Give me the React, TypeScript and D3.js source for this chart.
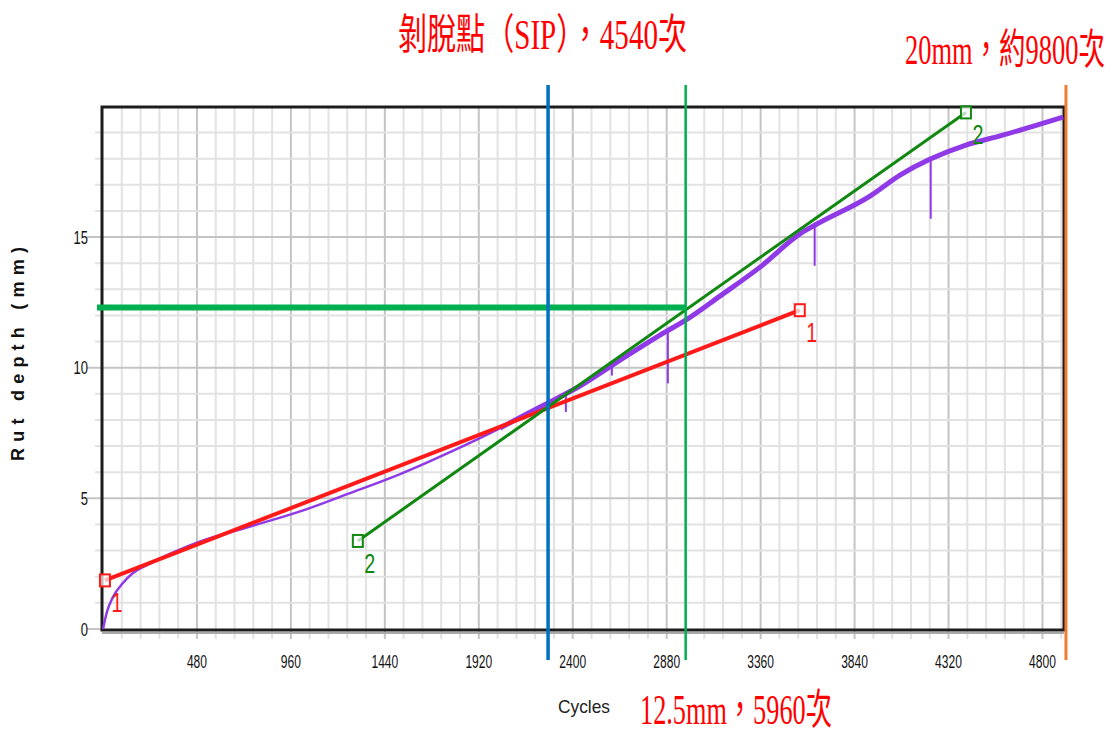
import { useLayoutEffect, useRef, useState } from "react";
import * as d3 from "d3";

const WIDTH = 1114;
const HEIGHT = 736;

// measured rut depth curve (cycles, mm)
const rutCycles = [0, 20, 51, 102, 153, 240, 480, 751, 1007, 1262, 1518, 1773, 2029, 2182, 2274, 2437, 2642, 2846, 2979, 3152, 3357, 3561, 3638, 3919, 4072, 4409, 4583, 4905];
const rutDepth = [0, 0.65, 1.22, 1.76, 2.14, 2.5, 3.3, 3.92, 4.5, 5.2, 5.93, 6.77, 7.69, 8.3, 8.65, 9.3, 10.29, 11.25, 11.83, 12.74, 13.85, 15.12, 15.46, 16.57, 17.37, 18.52, 18.87, 19.59];

// downward spikes in the measured curve
const spikeCycles = [2365, 2600, 2886, 3636, 4229];
const spikeLow = [8.3, 9.7, 9.4, 13.9, 15.7];

// fitted lines 1 and 2 (end points)
const fit1Cycles = [10, 3560];
const fit1Depth = [1.86, 12.2];
const fit2Cycles = [1302, 4409];
const fit2Depth = [3.37, 19.77];

// reference lines
const sipCycles = 2274;
const depth125Cycles = 2977;
const depth20Cycles = 4920;
const depthLevel = 12.3;

const xTicks = [480, 960, 1440, 1920, 2400, 2880, 3360, 3840, 4320, 4800];
const yTicks = [0, 5, 10, 15];

const SERIF = "'Liberation Serif', 'Noto Sans CJK TC', serif";
const SANS = "'Liberation Sans', Arial, sans-serif";

// text squeezed horizontally to a given width (like the narrow fonts in the original)
function FitText({ x, y, width, size, color, font, children }:
    { x: number; y: number; width: number; size: number; color: string; font: string; children: string }) {
    const ref = useRef<SVGTextElement>(null);
    const [k, setK] = useState(0.6);
    useLayoutEffect(() => {
        if (ref.current) {
            const len = ref.current.getComputedTextLength();
            if (len > 0) setK(width / len);
        }
    }, [width, children]);
    return (
        <text ref={ref} transform={`translate(${x},${y}) scale(${k},1)`} fill={color} fontFamily={font} fontSize={size}>
            {children}
        </text>
    );
}

function Marker({ cx, cy, color, label }: { cx: number; cy: number; color: string; label: string }) {
    return (
        <g>
            <rect x={cx - 5} y={cy - 6} width={10} height={12} fill="#fff" fillOpacity={0.7} stroke={color} strokeWidth={2} />
            <text x={cx + 12} y={cy + 32} textAnchor="middle" fill={color} fontFamily={SANS} fontSize={28}
                textLength={11} lengthAdjust="spacingAndGlyphs">{label}</text>
        </g>
    );
}

export default function App() {
    const x = d3.scaleLinear().domain([0, 4910]).range([103, 1064]);
    const y = d3.scaleLinear().domain([0, 20]).range([629, 106.4]);
    const rutAt = d3.scaleLinear().domain(rutCycles).range(rutDepth);

    const rutLine = d3.line<number>()
        .x((i) => x(rutCycles[i]))
        .y((i) => y(rutDepth[i]))
        .curve(d3.curveMonotoneX);
    const idx = rutCycles.map((_, i) => i);
    const lateIdx = idx.filter((i) => rutCycles[i] >= 2029);

    const xMinor = d3.range(96, 4910, 96);
    const yMinor = d3.range(1, 20, 1);

    const top = 85;
    const bottom = 660;

    return (
        <svg width={WIDTH} height={HEIGHT} style={{ position: "absolute", left: 0, top: 0, background: "#fff" }}>
            {/* grid */}
            {xMinor.map((v) => (
                <line key={"gx" + v} x1={x(v)} x2={x(v)} y1={y(20)} y2={y(0) + 10}
                    stroke={v % 480 === 0 ? "#c4c4c4" : "#e2e2e2"} strokeWidth={2} />
            ))}
            {yMinor.map((v) => (
                <line key={"gy" + v} x1={x(0) - (v % 5 === 0 ? 16 : 8)} x2={x(4910)} y1={y(v)} y2={y(v)}
                    stroke={v % 5 === 0 ? "#c4c4c4" : "#e2e2e2"} strokeWidth={2} />
            ))}
            <line x1={x(0) - 16} x2={x(0)} y1={y(0)} y2={y(0)} stroke="#c4c4c4" strokeWidth={2} />

            {/* frame */}
            <line x1={102} x2={1064} y1={y(0) + 4} y2={y(0) + 4} stroke="#a8a8a8" strokeWidth={2} />
            <rect x={102} y={107} width={962} height={523} fill="none" stroke="#1c1c1c" strokeWidth={3} />

            {/* tick labels */}
            {yTicks.map((v) => (
                <text key={"ty" + v} x={88} y={y(v) + 6.5} textAnchor="end" fill="#111" fontFamily={SANS}
                    fontSize={18} textLength={String(v).length * 7.2} lengthAdjust="spacingAndGlyphs">{v}</text>
            ))}
            {xTicks.map((v) => (
                <text key={"tx" + v} x={x(v)} y={668} textAnchor="middle" fill="#111" fontFamily={SANS}
                    fontSize={18} textLength={String(v).length * 6.7} lengthAdjust="spacingAndGlyphs">{v}</text>
            ))}

            {/* axis titles */}
            <text x={584} y={713} textAnchor="middle" fill="#222" fontFamily={SANS} fontSize={19}
                textLength={52} lengthAdjust="spacingAndGlyphs">Cycles</text>
            <text transform="translate(24,354) rotate(-90)" textAnchor="middle" fill="#111" fontFamily={SANS}
                fontWeight="bold" fontSize={18} textLength={214} lengthAdjust="spacing">Rut depth (mm)</text>

            {/* measured curve */}
            <path d={rutLine(idx) ?? ""} fill="none" stroke="#8f3ae6" strokeWidth={2.5} />
            <path d={rutLine(lateIdx) ?? ""} fill="none" stroke="#8f3ae6" strokeWidth={5} strokeLinejoin="round" />
            {spikeCycles.map((c, i) => (
                <line key={"sp" + i} x1={x(c)} x2={x(c)} y1={y(rutAt(c))} y2={y(spikeLow[i])}
                    stroke="#8f3ae6" strokeWidth={2} />
            ))}

            {/* fitted lines */}
            <line x1={x(fit1Cycles[0])} y1={y(fit1Depth[0])} x2={x(fit1Cycles[1])} y2={y(fit1Depth[1])}
                stroke="#ff1a1a" strokeWidth={4} />
            <line x1={x(fit2Cycles[0])} y1={y(fit2Depth[0])} x2={x(fit2Cycles[1])} y2={y(fit2Depth[1])}
                stroke="#118811" strokeWidth={3} />
            <Marker cx={x(fit1Cycles[0])} cy={y(fit1Depth[0])} color="#ff1a1a" label="1" />
            <Marker cx={x(fit1Cycles[1])} cy={y(fit1Depth[1])} color="#ff1a1a" label="1" />
            <Marker cx={x(fit2Cycles[0])} cy={y(fit2Depth[0])} color="#118811" label="2" />
            <Marker cx={x(fit2Cycles[1])} cy={y(fit2Depth[1])} color="#118811" label="2" />

            {/* reference lines */}
            <line x1={97} x2={x(depth125Cycles)} y1={y(depthLevel)} y2={y(depthLevel)} stroke="#00b050" strokeWidth={6} />
            <line x1={x(sipCycles)} x2={x(sipCycles)} y1={top} y2={bottom} stroke="#0070c0" strokeWidth={3.5} />
            <line x1={x(depth125Cycles)} x2={x(depth125Cycles)} y1={top} y2={bottom} stroke="#00b050" strokeWidth={2.5} />
            <line x1={x(depth20Cycles)} x2={x(depth20Cycles)} y1={top} y2={bottom} stroke="#ed7d31" strokeWidth={3} />

            {/* annotations */}
            <FitText x={398} y={49} width={289} size={42} color="#ff0000" font={SERIF}>剝脫點（SIP），4540次</FitText>
            <FitText x={905} y={64} width={200} size={42} color="#ff0000" font={SERIF}>20mm，約9800次</FitText>
            <FitText x={640} y={724} width={192} size={42} color="#ff0000" font={SERIF}>12.5mm，5960次</FitText>
        </svg>
    );
}
